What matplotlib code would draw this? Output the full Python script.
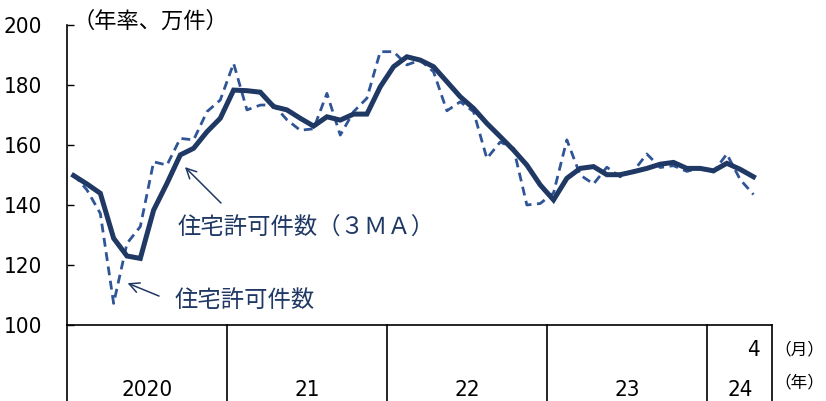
import numpy as np
import matplotlib.pyplot as plt
import matplotlib.transforms as mtransforms
from matplotlib import font_manager

# 住宅許可件数（年率、万件）2020年1月～2024年4月
permits = [150.2, 145.0, 137.2, 107.2, 127.2, 132.8, 154.4, 153.3, 162.2, 161.7, 171.1, 175.0,
           187.2, 171.7, 173.3, 173.4, 168.4, 164.9, 165.4, 177.2, 163.3, 171.1, 175.6, 191.1,
           191.1, 186.7, 188.3, 184.4, 171.4, 174.4, 171.1, 155.5, 161.0, 158.9, 140.0, 140.5,
           144.0, 161.7, 150.0, 147.0, 152.6, 149.4, 151.3, 157.0, 152.5, 153.1, 151.2, 152.3,
           151.0, 157.0, 148.5, 143.5]
permits_3ma = [149.8, 147.0, 143.9, 128.9, 123.0, 122.2, 138.3, 147.2, 156.7, 158.9, 164.4, 168.9,
               178.3, 178.1, 177.6, 172.8, 171.7, 168.9, 166.3, 169.4, 168.3, 170.3, 170.3, 179.4,
               186.1, 189.4, 188.3, 186.1, 181.1, 176.1, 172.2, 167.2, 162.8, 158.3, 153.3, 146.7,
               141.7, 148.9, 152.2, 152.8, 150.1, 150.1, 151.1, 152.2, 153.6, 154.2, 152.2, 152.2,
               151.4, 153.9, 151.9, 149.4]
year_labels = ['2020', '21', '22', '23', '24']
months_per_year = [12, 12, 12, 12, 4]
last_month_label = '4'
y_ticks = [100, 120, 140, 160, 180, 200]

CJK = ['Noto Sans CJK JP', 'DejaVu Sans']
NAVY = '#1f3864'
BLUE = '#2f5597'

# narrow digits for the numeric labels
num_font = font_manager.FontProperties(family='DejaVu Sans', stretch='condensed', size=16)

fig = plt.figure(figsize=(8.26, 4.01), dpi=100)
ax = fig.add_axes([0.0811, 0.1895, 0.8535, 0.7482])

x = np.arange(len(permits))
ax.plot(x, permits, color=BLUE, lw=2.0, dashes=(3.2, 2.0), zorder=2)
ax.plot(x, permits_3ma, color=NAVY, lw=3.6, solid_joinstyle='miter', zorder=3)

xmax = -0.5 + 705 / 13.33
ax.set_xlim(-0.5, xmax)
ax.set_ylim(100, 200)
ax.set_yticks(y_ticks)
ax.set_yticklabels([str(v) for v in y_ticks], fontproperties=num_font)
ax.tick_params(axis='y', direction='in', length=5, width=1, pad=18)
ax.set_xticks([])
for s in ['top', 'right']:
    ax.spines[s].set_visible(False)
for s in ['left', 'bottom']:
    ax.spines[s].set_linewidth(1.2)

# year table under the axis
trans = mtransforms.blended_transform_factory(ax.transData, ax.transAxes)
edges = np.concatenate([[0], np.cumsum(months_per_year)]) - 0.5
for e in list(edges[:-1]) + [xmax]:
    ax.plot([e, e], [0, -0.35], transform=trans, color='black', lw=1.2, clip_on=False)
for lab, a, b in zip(year_labels, edges[:-1], edges[1:]):
    ax.text((a + min(b, xmax)) / 2 + (0.5 if lab == year_labels[-1] else 0), -0.215, lab,
            transform=trans, ha='center', va='center', fontproperties=num_font)
ax.text(len(permits) - 1, -0.083, last_month_label, transform=trans, ha='center', va='center',
        fontproperties=num_font)
fig.text(824 / 826, 1 - 350 / 401, '（月）', family=CJK, fontsize=12, ha='right', va='center')
fig.text(824 / 826, 1 - 383 / 401, '（年）', family=CJK, fontsize=12, ha='right', va='center')
fig.text(72 / 826, 1 - 21 / 401, '（年率、万件）', family=CJK, fontsize=16, ha='left', va='center')

# series labels with arrows
ax.annotate('', xy=(8.2, 153.3), xytext=(11.2, 140.0),
            arrowprops=dict(arrowstyle='->', color=NAVY, lw=1.1, mutation_scale=18))
ax.text(7.8, 132.3, '住宅許可件数（３ＭＡ）', family=CJK, fontsize=16.8, color=NAVY,
        ha='left', va='center')
ax.annotate('', xy=(3.85, 114.3), xytext=(6.6, 109.3),
            arrowprops=dict(arrowstyle='->', color=NAVY, lw=1.1, mutation_scale=18))
ax.text(7.6, 108.3, '住宅許可件数', family=CJK, fontsize=16.8, color=NAVY,
        ha='left', va='center')

fig.savefig('out.png', dpi=100)
